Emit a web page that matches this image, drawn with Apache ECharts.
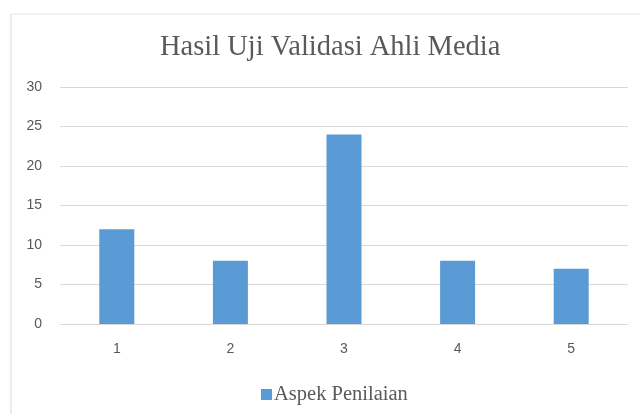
<!DOCTYPE html>
<html><head><meta charset="utf-8">
<script src="https://cdn.jsdelivr.net/npm/echarts@6/dist/echarts.min.js"></script>
<style>html,body{margin:0;padding:0;background:#fff}#c{width:640px;height:414px}</style>
</head><body><div id="c"></div>
<script>
const titleText = "Hasil Uji Validasi Ahli Media";
const categories = ["1", "2", "3", "4", "5"];
const seriesName = "Aspek Penilaian";
const values = [12, 8, 24, 8, 7];
const yTicks = { min: 0, max: 30, interval: 5 };

const chart = echarts.init(document.getElementById('c'), null, { renderer: 'canvas' });
chart.setOption({
  animation: false,
  backgroundColor: '#ffffff',
  graphic: [
    { type: 'line', shape: { x1: 11, y1: 14, x2: 11, y2: 414 }, style: { stroke: '#d9d9d9', lineWidth: 1 } },
    { type: 'line', shape: { x1: 11, y1: 14, x2: 640, y2: 14 }, style: { stroke: '#e6e6e6', lineWidth: 1 } }
  ],
  title: {
    text: titleText, left: 160, top: 33, padding: 0,
    textStyle: { fontFamily: 'Liberation Serif', fontWeight: 'normal', fontSize: 28.5, color: '#595959' }
  },
  legend: {
    data: [seriesName], top: 379, left: 256,
    icon: 'rect', itemWidth: 11, itemHeight: 11, itemGap: 4,
    textStyle: { fontFamily: 'Liberation Serif', fontSize: 20.5, color: '#595959', padding: [0,0,0,-3] }
  },
  grid: { left: 60, right: 12, top: 87, bottom: 90 },
  xAxis: {
    type: 'category', data: categories,
    axisLine: { lineStyle: { color: '#d9d9d9' } }, axisTick: { show: false },
    axisLabel: { color: '#595959', fontFamily: 'Liberation Sans', fontSize: 14, margin: 18 }
  },
  yAxis: {
    type: 'value', min: yTicks.min, max: yTicks.max, interval: yTicks.interval,
    axisLine: { show: false }, axisTick: { show: false },
    splitLine: { lineStyle: { color: '#d9d9d9' } },
    axisLabel: { color: '#595959', fontFamily: 'Liberation Sans', fontSize: 14, margin: 18 }
  },
  series: [{ name: seriesName, type: 'bar', data: values, barWidth: 35, itemStyle: { color: '#5b9bd5' } }]
});
</script></body></html>
